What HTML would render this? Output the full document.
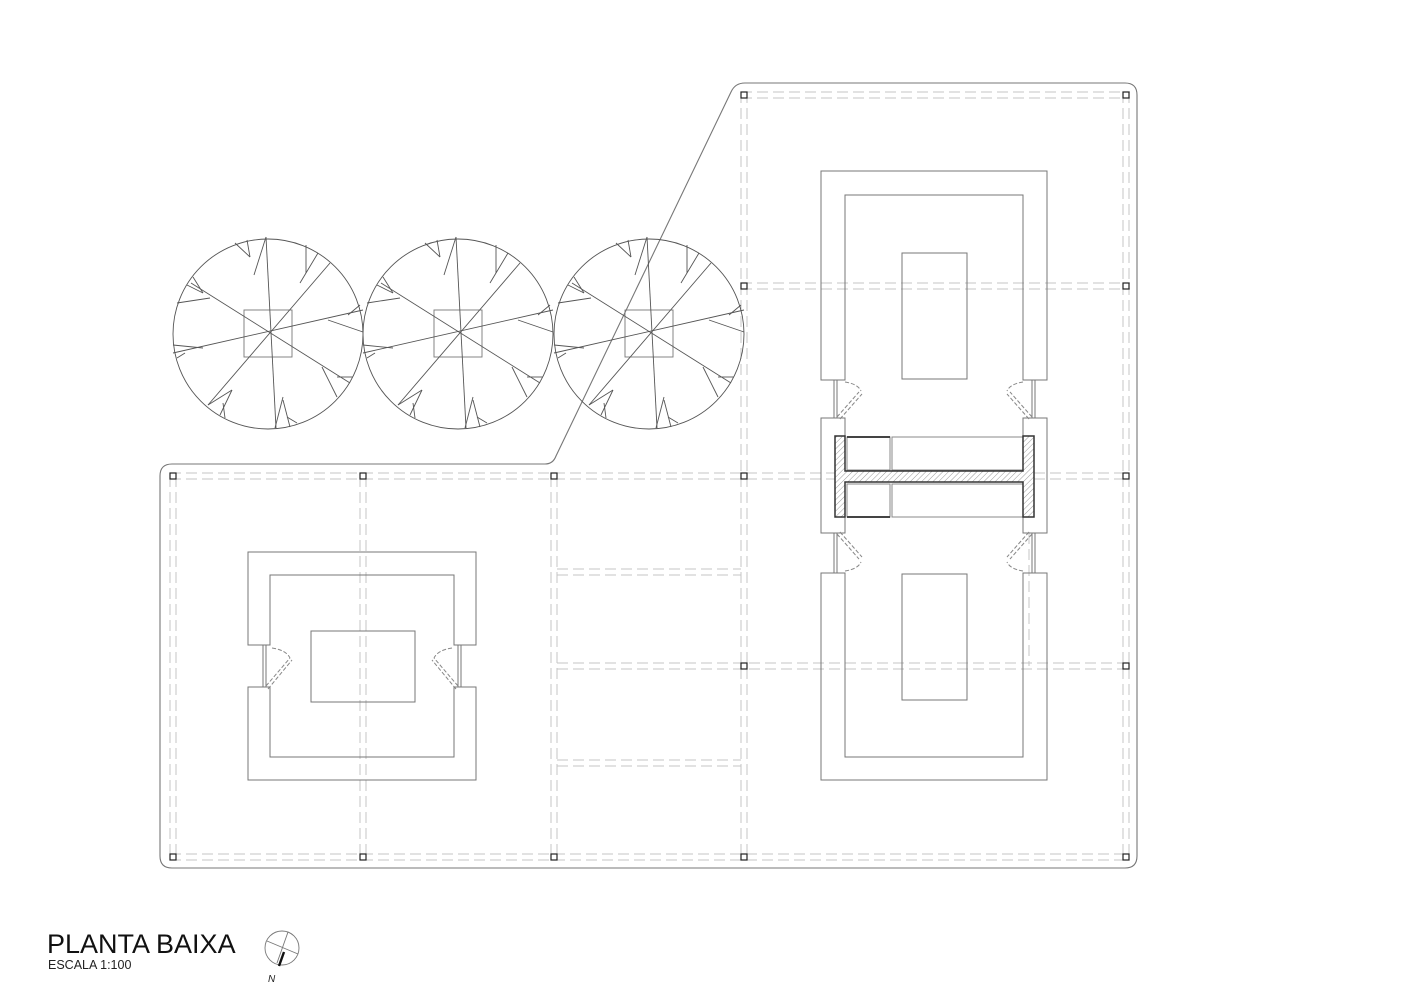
<!DOCTYPE html>
<html><head><meta charset="utf-8"><style>
html,body{margin:0;padding:0;background:#fff;}
svg{display:block;}
</style></head><body>
<svg width="1415" height="1000" viewBox="0 0 1415 1000" xmlns="http://www.w3.org/2000/svg">
<defs>
<pattern id="h" width="4" height="4" patternUnits="userSpaceOnUse" patternTransform="rotate(45)">
<rect width="4" height="4" fill="#fff"/><line x1="0" y1="0" x2="0" y2="4" stroke="#999" stroke-width="1"/>
</pattern>
<g id="tree" fill="none" stroke="#555" stroke-width="0.9">
<circle cx="0" cy="0" r="95"/>
<rect x="-24" y="-24" width="48" height="47" stroke="#777"/>
<line x1="-2" y1="-97" x2="8" y2="94"/>
<line x1="-77" y1="-51" x2="82" y2="49"/>
<line x1="-95" y1="19" x2="95" y2="-24"/>
<line x1="62" y1="-71" x2="-60" y2="71"/>
<line x1="-33" y1="-91" x2="-18" y2="-77"/><line x1="-21" y1="-94" x2="-18" y2="-77"/>
<line x1="-2" y1="-97" x2="-14" y2="-59"/>
<line x1="38" y1="-89" x2="38" y2="-61"/><line x1="50" y1="-81" x2="32" y2="-51"/>
<line x1="-81" y1="-49" x2="-65" y2="-41"/><line x1="-75" y1="-57" x2="-65" y2="-41"/>
<line x1="-91" y1="-31" x2="-58" y2="-36"/>
<line x1="92" y1="-29" x2="80" y2="-19"/><line x1="95" y1="-2" x2="60" y2="-14"/>
<line x1="-95" y1="11" x2="-65" y2="14"/><line x1="-91" y1="24" x2="-83" y2="19"/>
<line x1="85" y1="43" x2="69" y2="43"/><line x1="69" y1="63" x2="54" y2="33"/>
<line x1="-60" y1="71" x2="-36" y2="56"/><line x1="-48" y1="81" x2="-36" y2="56"/><line x1="-43" y1="84" x2="-45" y2="69"/>
<line x1="7" y1="94" x2="15" y2="63"/><line x1="22" y1="93" x2="15" y2="66"/><line x1="29" y1="89" x2="19" y2="83"/>
</g>
</defs>

<!-- outline -->
<path d="M172 464 L545 464 Q553 464 556 456 L731 92 Q735 83 745 83 L1125 83 Q1137 83 1137 95 L1137 856 Q1137 868 1125 868 L172 868 Q160 868 160 856 L160 476 Q160 464 172 464 Z" fill="none" stroke="#777" stroke-width="1.1"/>

<!-- dashed grid -->
<g stroke="#c4c4c4" stroke-width="1" stroke-dasharray="11,5" fill="none">
<line x1="170" y1="473" x2="1130" y2="473"/><line x1="170" y1="479" x2="1130" y2="479"/>
<line x1="170" y1="854" x2="1130" y2="854"/><line x1="170" y1="860" x2="1130" y2="860"/>
<line x1="741" y1="92" x2="1130" y2="92"/><line x1="741" y1="98" x2="1130" y2="98"/>
<line x1="741" y1="283" x2="1130" y2="283"/><line x1="741" y1="289" x2="1130" y2="289"/>
<line x1="557" y1="663" x2="1130" y2="663"/><line x1="557" y1="669" x2="1130" y2="669"/>
<line x1="557" y1="569" x2="741" y2="569"/><line x1="557" y1="575" x2="741" y2="575"/>
<line x1="557" y1="760" x2="741" y2="760"/><line x1="557" y1="766" x2="741" y2="766"/>
<line x1="170" y1="476" x2="170" y2="860"/><line x1="176" y1="476" x2="176" y2="860"/>
<line x1="360" y1="476" x2="360" y2="860"/><line x1="366" y1="476" x2="366" y2="860"/>
<line x1="551" y1="476" x2="551" y2="860"/><line x1="557" y1="476" x2="557" y2="860"/>
<line x1="741" y1="92" x2="741" y2="860"/><line x1="747" y1="92" x2="747" y2="860"/>
<line x1="1123" y1="92" x2="1123" y2="860"/><line x1="1129" y1="92" x2="1129" y2="860"/>
<line x1="1029" y1="533" x2="1029" y2="666"/>
</g>

<!-- columns -->
<g fill="#fff" stroke="#222" stroke-width="1.2">
<rect x="170" y="473" width="6" height="6"/><rect x="360" y="473" width="6" height="6"/><rect x="551" y="473" width="6" height="6"/><rect x="741" y="473" width="6" height="6"/><rect x="1123" y="473" width="6" height="6"/>
<rect x="170" y="854" width="6" height="6"/><rect x="360" y="854" width="6" height="6"/><rect x="551" y="854" width="6" height="6"/><rect x="741" y="854" width="6" height="6"/><rect x="1123" y="854" width="6" height="6"/>
<rect x="741" y="92" width="6" height="6"/><rect x="1123" y="92" width="6" height="6"/>
<rect x="741" y="283" width="6" height="6"/><rect x="1123" y="283" width="6" height="6"/>
<rect x="741" y="663" width="6" height="6"/><rect x="1123" y="663" width="6" height="6"/>
</g>

<!-- trees -->
<use href="#tree" x="268" y="334"/>
<use href="#tree" x="458" y="334"/>
<use href="#tree" x="649" y="334"/>

<!-- left building -->
<g fill="none" stroke="#777" stroke-width="1">
<path d="M248 645 L248 552 L476 552 L476 645 L454 645 L454 575 L270 575 L270 645 Z"/>
<path d="M248 687 L248 780 L476 780 L476 687 L454 687 L454 757 L270 757 L270 687 Z"/>
<rect x="311" y="631" width="104" height="71"/>
<line x1="263" y1="645" x2="263" y2="687"/><line x1="266" y1="645" x2="266" y2="687"/>
<line x1="458" y1="645" x2="458" y2="687"/><line x1="461" y1="645" x2="461" y2="687"/>
</g>
<g fill="none" stroke="#888" stroke-width="1" stroke-dasharray="4,2">
<path d="M266 686 L290 658 M268 689 L292 660"/><path d="M272 648 Q286 650 290 658"/>
<path d="M458 686 L434 658 M456 689 L432 660"/><path d="M452 648 Q438 650 434 658"/>
</g>

<!-- right building -->
<g fill="none" stroke="#777" stroke-width="1">
<path d="M821 380 L821 171 L1047 171 L1047 380 L1023 380 L1023 195 L845 195 L845 380 Z"/>
<path d="M821 573 L821 780 L1047 780 L1047 573 L1023 573 L1023 757 L845 757 L845 573 Z"/>
<rect x="902" y="253" width="65" height="126"/>
<rect x="902" y="574" width="65" height="126"/>
<rect x="821" y="418" width="24" height="115"/>
<rect x="1023" y="418" width="24" height="115"/>
<line x1="834" y1="380" x2="834" y2="418"/><line x1="837" y1="380" x2="837" y2="418"/>
<line x1="1032" y1="380" x2="1032" y2="418"/><line x1="1035" y1="380" x2="1035" y2="418"/>
<line x1="834" y1="533" x2="834" y2="573"/><line x1="837" y1="533" x2="837" y2="573"/>
<line x1="1032" y1="533" x2="1032" y2="573"/><line x1="1035" y1="533" x2="1035" y2="573"/>
</g>
<g fill="none" stroke="#888" stroke-width="1" stroke-dasharray="4,2">
<path d="M837 417 L859 392 M840 419 L862 394"/><path d="M845 382 Q858 384 861 391"/>
<path d="M1032 417 L1010 392 M1029 419 L1007 394"/><path d="M1023 382 Q1010 384 1007 391"/>
<path d="M837 534 L859 559 M840 532 L862 557"/><path d="M845 571 Q858 569 861 562"/>
<path d="M1032 534 L1010 559 M1029 532 L1007 557"/><path d="M1023 571 Q1010 569 1007 562"/>
</g>
<!-- H element -->
<g fill="none" stroke="#888" stroke-width="1">
<rect x="847" y="437" width="43" height="33"/>
<rect x="847" y="484" width="43" height="33"/>
<rect x="892" y="437" width="131" height="33"/>
<rect x="892" y="484" width="131" height="33"/>
</g>
<line x1="847" y1="437" x2="890" y2="437" stroke="#444" stroke-width="2"/>
<line x1="847" y1="517" x2="890" y2="517" stroke="#444" stroke-width="2"/>
<path d="M835 436 L845 436 L845 471 L1023 471 L1023 436 L1034 436 L1034 517 L1023 517 L1023 482 L845 482 L845 517 L835 517 Z" fill="url(#h)" stroke="#333" stroke-width="1.5"/>

<!-- title -->
<text x="47" y="953" font-family="Liberation Sans, sans-serif" font-size="27" fill="#111">PLANTA BAIXA</text>
<text x="48" y="969" font-family="Liberation Sans, sans-serif" font-size="12.5" fill="#222">ESCALA 1:100</text>
<g fill="none" stroke="#777" stroke-width="0.9">
<circle cx="282" cy="948" r="17"/>
<line x1="267" y1="941" x2="298" y2="954"/>
<line x1="288" y1="932" x2="277" y2="963"/>
</g>
<line x1="284" y1="952" x2="279" y2="966" stroke="#111" stroke-width="2.4"/>
<text x="268" y="982" font-family="Liberation Sans, sans-serif" font-size="10" font-style="italic" fill="#222">N</text>
</svg>
</body></html>
